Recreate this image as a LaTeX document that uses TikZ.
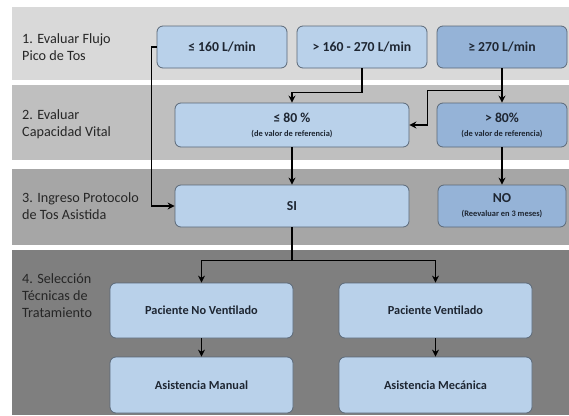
\documentclass[tikz,border=0pt]{standalone}
\usepackage{fontspec}
\setmainfont{Carlito}
\usepackage{tikz}
\usetikzlibrary{arrows.meta,positioning}

\definecolor{fondoA}{HTML}{D9D9D9}
\definecolor{fondoB}{HTML}{BFBFBF}
\definecolor{fondoC}{HTML}{A6A6A6}
\definecolor{fondoD}{HTML}{7F7F7F}
\definecolor{azulclaro}{HTML}{B9D1EA}
\definecolor{azuloscuro}{HTML}{95B3D7}
\definecolor{bordecaja}{HTML}{5A6878}
\definecolor{textocaja}{HTML}{1E2632}
\newcommand{\notapeq}[1]{{\fontsize{8.4}{10}\selectfont #1}}

\begin{document}
\begin{tikzpicture}[x=1pt, y=-1pt,
    caja/.style={draw=bordecaja, fill=azulclaro, rounded corners=6pt, line width=0.8pt, text=textocaja, align=center, inner sep=0pt, font=\bfseries\fontsize{13.7}{15}\selectfont},
    cajaosc/.style={caja, fill=azuloscuro},
    cajabaja/.style={caja, font=\bfseries\fontsize{12.3}{14}\selectfont},
    flecha/.style={-{Stealth[length=7pt,width=7pt]}, line width=1.7pt},
    etiqueta/.style={anchor=west, align=left, inner sep=0pt, text=black!85, font=\fontsize{14.2}{17}\selectfont}]
            \useasboundingbox (0,0) rectangle (569,415);
            \fill[white] (0,0) rectangle (569,415);

            \fill[fondoA] (12,7) rectangle (569,80);
            \fill[fondoB] (12,85) rectangle (569,160);
            \fill[fondoC] (12,169) rectangle (569,245);
            \fill[fondoD] (12,250) rectangle (569,415);

            \node[etiqueta] (e1) at (22,47) {1. Evaluar Flujo\\Pico de Tos};
            \node[etiqueta] (e2) at (22,124) {2. Evaluar\\Capacidad Vital};
            \node[etiqueta] (e3) at (22,206) {3. Ingreso Protocolo\\de Tos Asistida};
            \node[etiqueta] (e4) at (22,296) {4. Selección\\Técnicas de\\Tratamiento};

            \node[caja, minimum width=130pt, minimum height=42pt] (f1) at (222,47) {≤ 160 L/min};
            \node[caja, minimum width=130pt, minimum height=42pt] (f2) at (362,47) {> 160 - 270 L/min};
            \node[cajaosc, minimum width=130pt, minimum height=42pt] (f3) at (502,47) {≥ 270 L/min};

            \node[caja, minimum width=234pt, minimum height=44pt] (c1) at (292,125) {≤ 80 \%\\[-1pt]\notapeq{(de valor de referencia)}};
            \node[cajaosc, minimum width=130pt, minimum height=44pt] (c2) at (502,125) {> 80\%\\[-1pt]\notapeq{(de valor de referencia)}};

            \node[caja, minimum width=234pt, minimum height=42pt] (si) at (292,206) {SI};
            \node[cajaosc, minimum width=128pt, minimum height=42pt] (no) at (502,206) {NO\\[-1pt]\notapeq{(Reevaluar en 3 meses)}};

            \node[cajabaja, minimum width=183pt, minimum height=55pt] (pnv) at (201.5,310.5) {Paciente No Ventilado};
            \node[cajabaja, minimum width=193pt, minimum height=55pt] (pv) at (435.5,310.5) {Paciente Ventilado};
            \node[cajabaja, minimum width=183pt, minimum height=56pt] (am) at (201.5,385) {Asistencia Manual};
            \node[cajabaja, minimum width=193pt, minimum height=56pt] (amec) at (435.5,385) {Asistencia Mecánica};

            \draw[flecha] (f1.west) -- ++(-5,0) |- (si.west);
            \draw[flecha] (f2.south) -- ++(0,24) -| (c1.north);
            \draw[flecha] (f3.south) -- (c2.north);
            \draw[flecha] ([yshift=-22pt]f3.south) -| ([xshift=18pt]c1.east) -- (c1.east);
            \draw[flecha] (c1.south) -- (si.north);
            \draw[flecha] (c2.south) -- (no.north);
            \draw[flecha] (si.south) -- ++(0,33) -| (pnv.north);
            \draw[flecha] (si.south) -- ++(0,33) -| (pv.north);
            \draw[flecha] (pnv.south) -- (am.north);
            \draw[flecha] (pv.south) -- (amec.north);
        \end{tikzpicture}
\end{document}
